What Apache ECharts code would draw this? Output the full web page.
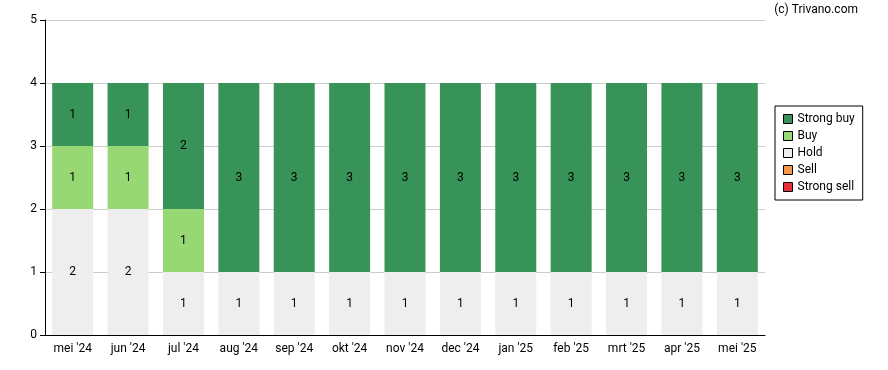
<!DOCTYPE html>
<html><head><meta charset="utf-8">
<script src="https://cdn.jsdelivr.net/npm/echarts@6/dist/echarts.min.js"></script>
<style>html,body{margin:0;padding:0;background:#fff}#c{width:888px;height:370px}</style>
</head><body><div id="c"></div>
<script>
var categories = ["mei '24","jun '24","jul '24","aug '24","sep '24","okt '24","nov '24","dec '24","jan '25","feb '25","mrt '25","apr '25","mei '25"];
var strongBuy = [1,1,2,3,3,3,3,3,3,3,3,3,3];
var buy = [1,1,1,0,0,0,0,0,0,0,0,0,0];
var hold = [2,2,1,1,1,1,1,1,1,1,1,1,1];
var sell = [0,0,0,0,0,0,0,0,0,0,0,0,0];
var strongSell = [0,0,0,0,0,0,0,0,0,0,0,0,0];
var yTicks = [0,1,2,3,4,5];

var font = 'Roboto';
function mk(name, data, color){
  return {name:name, type:'bar', stack:'a', data:data, barCategoryGap:'26%',
    itemStyle:{color:color},
    label:{show:true, position:'inside', color:'#000', fontFamily:font, fontSize:12,
      formatter:function(p){return p.value ? String(p.value) : '';}}};
}
var chart = echarts.init(document.getElementById('c'));
chart.setOption({
  animation:false,
  textStyle:{fontFamily:font},
  graphic:[{type:'text', right:30, top:4, style:{text:'(c) Trivano.com', font:'12px Roboto', fill:'#000'}}],
  grid:{left:45, right:123, top:20, bottom:35},
  legend:{orient:'vertical', left:775, top:106, itemWidth:9, itemHeight:9, itemGap:5,
    borderColor:'#000', borderWidth:1, padding:[7,8,7,8], borderRadius:0,
    textStyle:{fontFamily:font, fontSize:12, color:'#000'},
    data:['Strong buy','Buy','Hold','Sell','Strong sell'].map(function(n){return {name:n, icon:'rect'};}),
    itemStyle:{borderColor:'#000', borderWidth:1}},
  xAxis:{type:'category', data:categories,
    axisLine:{lineStyle:{color:'#000'}},
    axisTick:{alignWithLabel:true, lineStyle:{color:'#000'}},
    axisLabel:{color:'#000', fontFamily:font, fontSize:12, margin:8}},
  yAxis:{type:'value', min:0, max:5, interval:1,
    axisLine:{show:true, lineStyle:{color:'#000'}},
    axisTick:{show:true, lineStyle:{color:'#000'}},
    axisLabel:{color:'#000', fontFamily:font, fontSize:12, formatter:function(v){return yTicks.indexOf(v)>=0?String(v):'';}},
    splitLine:{lineStyle:{color:'#cccccc'}}},
  series:[
    mk('Strong sell', strongSell, '#e8303c'),
    mk('Sell', sell, '#f79646'),
    mk('Hold', hold, '#eeeeee'),
    mk('Buy', buy, '#98d874'),
    mk('Strong buy', strongBuy, '#389358')
  ]
});
</script></body></html>
